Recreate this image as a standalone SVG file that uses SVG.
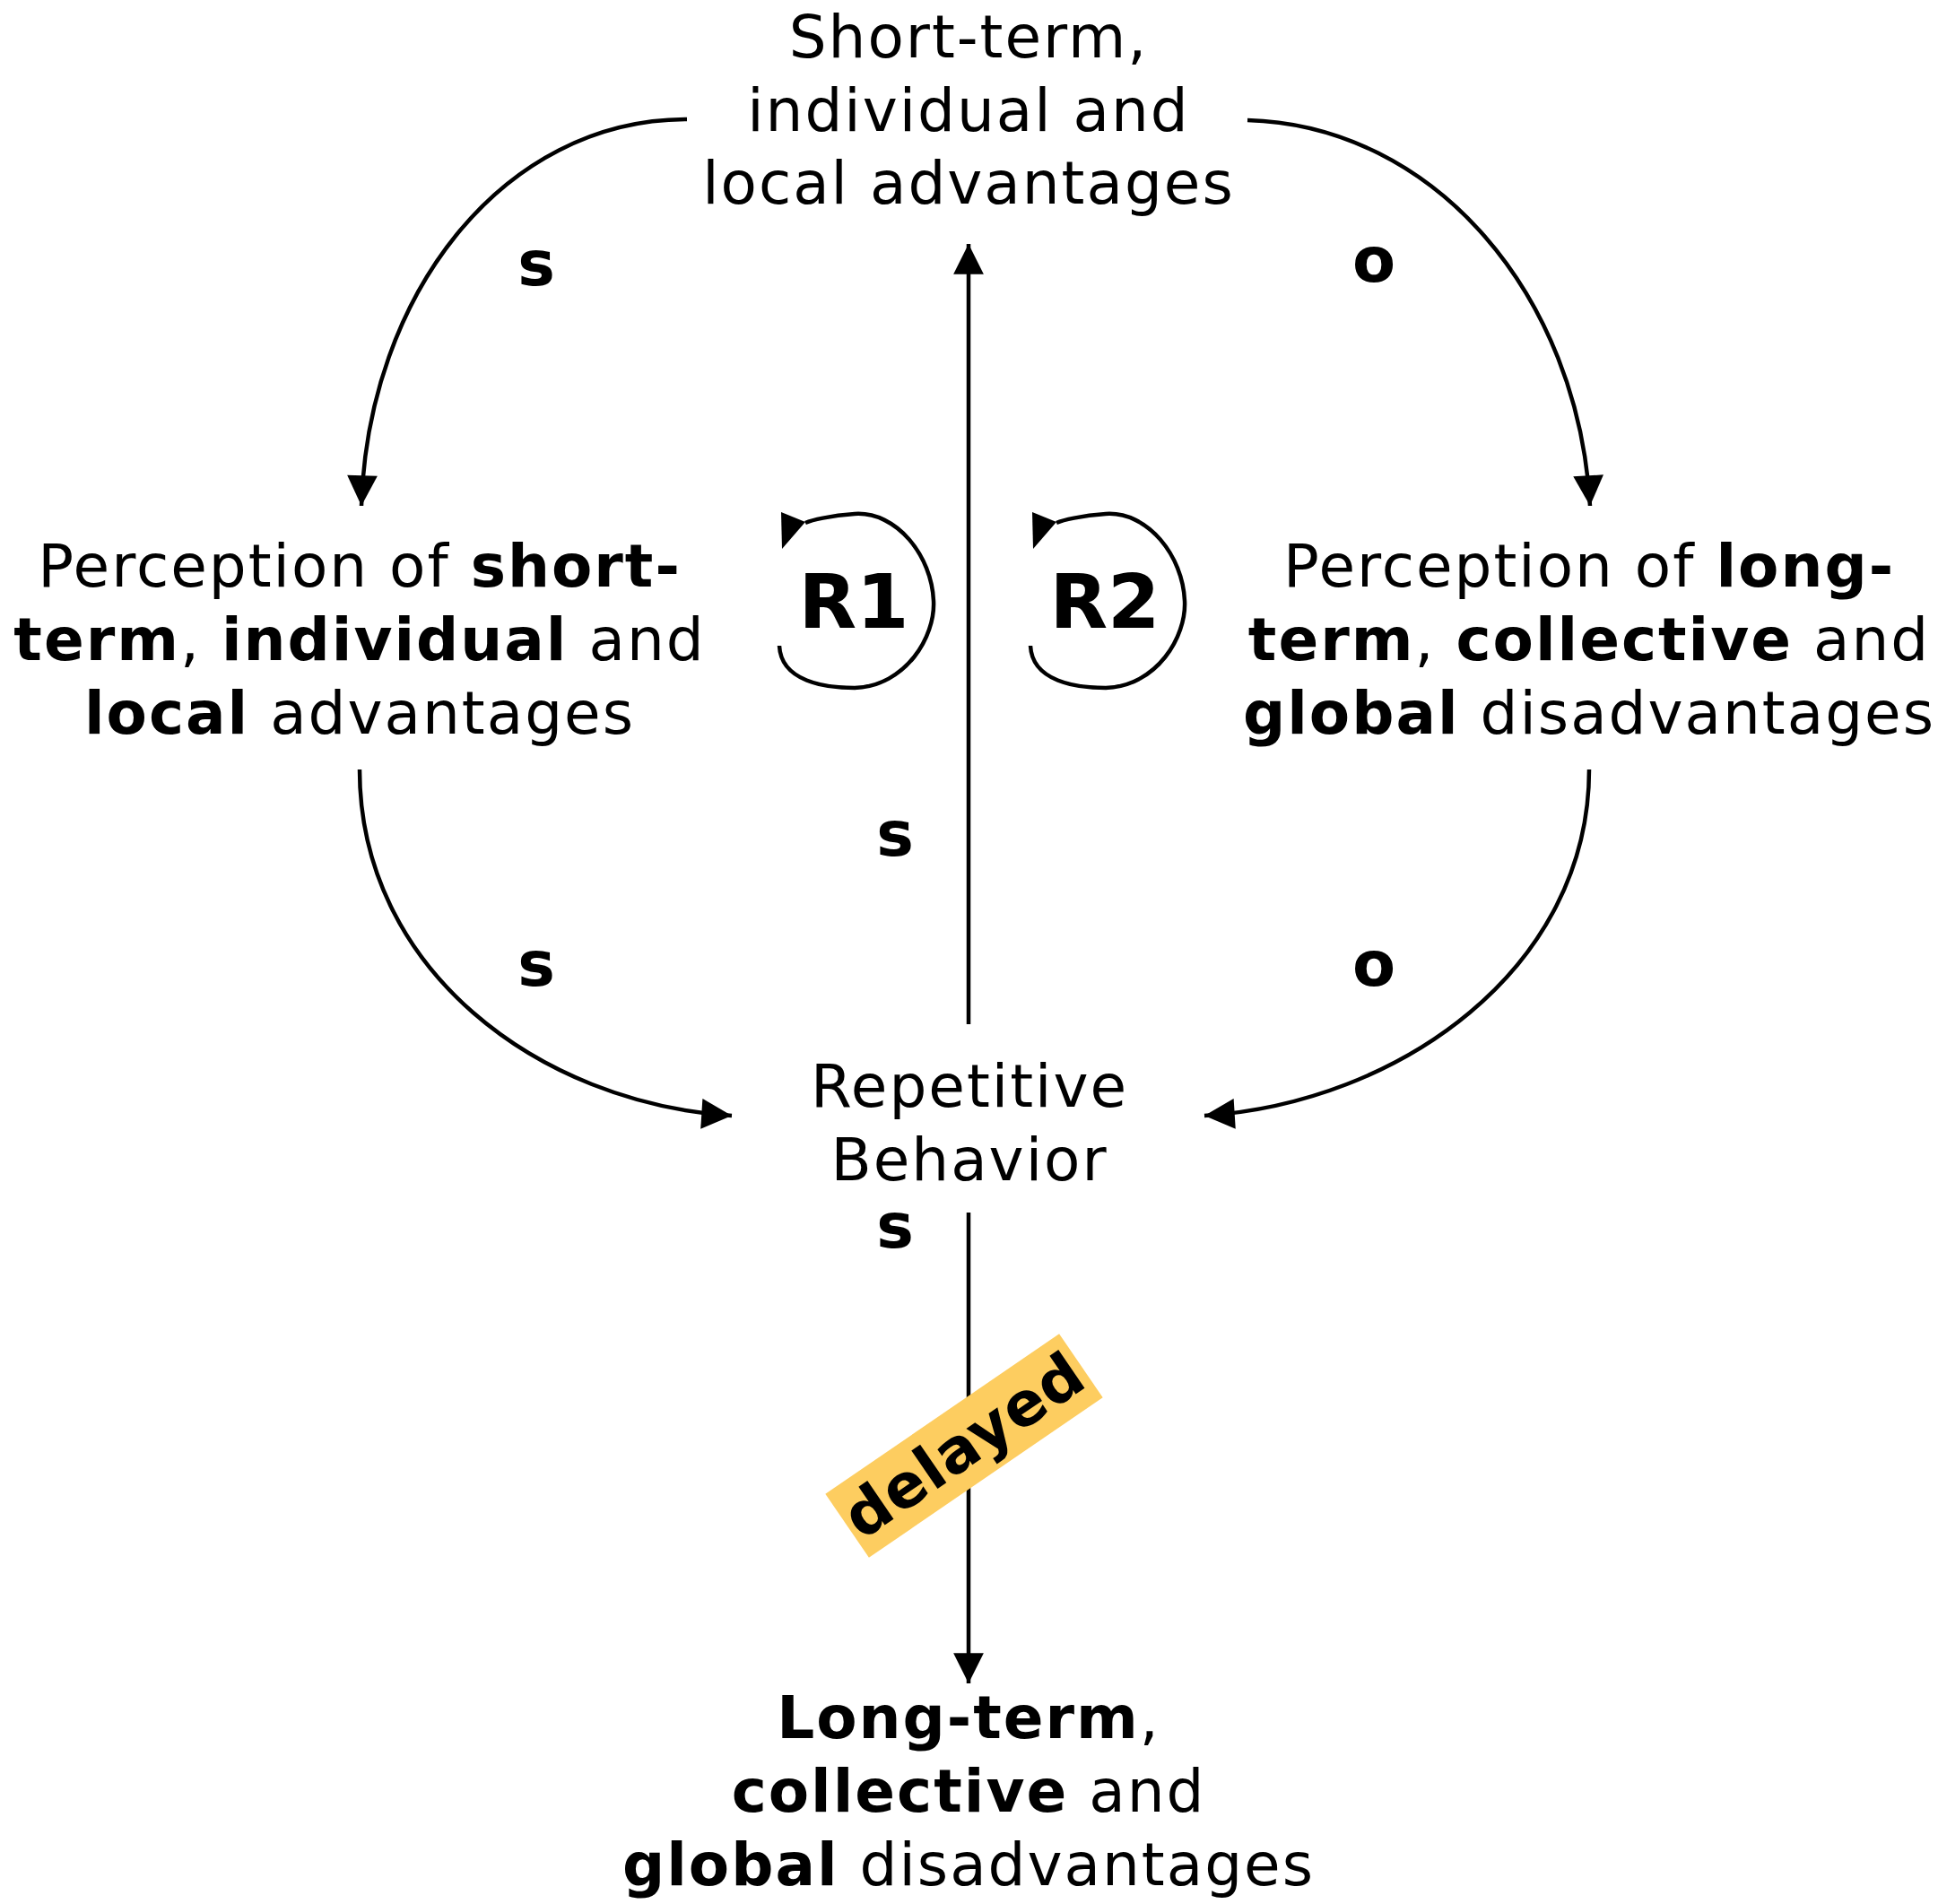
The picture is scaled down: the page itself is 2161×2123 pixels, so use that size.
<svg xmlns="http://www.w3.org/2000/svg" width="2161" height="2123" viewBox="0 0 2161 2123">
<style>
text{font-family:"DejaVu Sans",Verdana,sans-serif;font-size:66px;letter-spacing:2px;fill:#000;text-anchor:middle}
.b{font-weight:bold}
.c{fill:none;stroke:#000;stroke-width:4.5}
</style>
<defs>
<marker id="a" viewBox="0 0 10 10" refX="10" refY="5" markerWidth="8" markerHeight="7.5" orient="auto" markerUnits="strokeWidth"><path d="M0,0L10,5L0,10z" fill="#000"/></marker>
</defs>
<rect width="2161" height="2123" fill="#fff"/>
<g id="top"><text x="1080" y="64">Short-term,</text><text x="1080" y="146">individual and</text><text x="1080" y="227">local advantages</text></g>
<g id="left"><text x="401" y="654">Perception of <tspan class="b">short-</tspan></text><text x="401" y="736"><tspan class="b">term</tspan>, <tspan class="b">individual</tspan> and</text><text x="401" y="818"><tspan class="b">local</tspan> advantages</text></g>
<g id="right"><text x="1772" y="654">Perception of <tspan class="b">long-</tspan></text><text x="1772" y="736"><tspan class="b">term</tspan>, <tspan class="b">collective</tspan> and</text><text x="1772" y="818"><tspan class="b">global</tspan> disadvantages</text></g>
<g id="rep"><text x="1081" y="1234">Repetitive</text><text x="1081" y="1316">Behavior</text></g>
<g id="bottom"><text x="1080" y="1938"><tspan class="b">Long-term</tspan>,</text><text x="1080" y="2020"><tspan class="b">collective</tspan> and</text><text x="1080" y="2102"><tspan class="b">global</tspan> disadvantages</text></g>
<g id="connectors">
<path class="c" marker-end="url(#a)" d="M1080,1142V272"/>
<path class="c" marker-end="url(#a)" d="M1080,1352V1877"/>
<path class="c" marker-end="url(#a)" d="M766,133C560,133 410,330 403,564"/>
<path class="c" marker-end="url(#a)" d="M1391,134C1600,140 1760,330 1773,564"/>
<path class="c" marker-end="url(#a)" d="M401,858C401,1080 600,1230 816,1244"/>
<path class="c" marker-end="url(#a)" d="M1772,858C1772,1080 1560,1230 1343,1244"/>
<g id="R1"><path class="c" d="M869,720C871,760 920,767 953,767C1010,765 1043,710 1041,670C1039,620 1000,570 953,573C925,575 905,580 898,583"/><path d="M871,571L898,582L872,612z"/><text class="b" x="952" y="700" style="font-size:84px;letter-spacing:0">R1</text></g>
<g id="R2"><path class="c" d="M1149,720C1151,760 1200,767 1233,767C1290,765 1323,710 1321,670C1319,620 1280,570 1233,573C1205,575 1185,580 1178,583"/><path d="M1151,571L1178,582L1152,612z"/><text class="b" x="1232" y="700" style="font-size:84px;letter-spacing:0">R2</text></g>
<g><text class="b" x="599" y="318" style="font-size:70px">s</text><text class="b" x="1533" y="314" style="font-size:70px">o</text><text class="b" x="999" y="954" style="font-size:70px">s</text><text class="b" x="599" y="1099" style="font-size:70px">s</text><text class="b" x="1533" y="1099" style="font-size:70px">o</text><text class="b" x="999" y="1391" style="font-size:70px">s</text></g>
<g id="delayed" transform="translate(1075,1612) rotate(-34.4)"><rect x="-158" y="-43" width="316" height="86" fill="#FDCD60"/><text class="b" x="0" y="23" style="font-size:68px;letter-spacing:1px">delayed</text></g>
</g>
</svg>
